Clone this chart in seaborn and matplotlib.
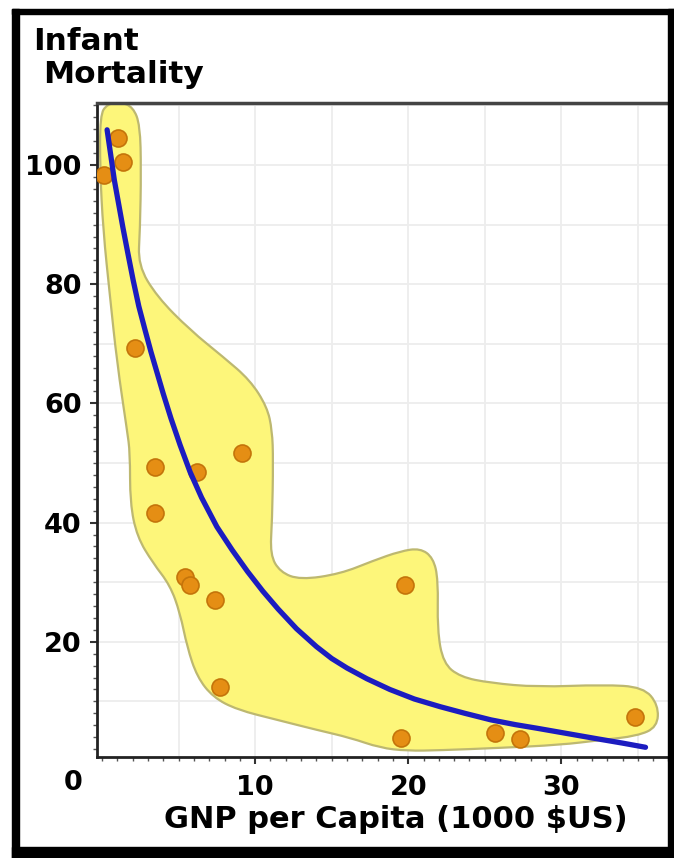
import matplotlib
matplotlib.use("Agg")
import matplotlib.pyplot as plt
from matplotlib.patches import Rectangle, PathPatch
from matplotlib.path import Path
from matplotlib.ticker import MultipleLocator
import seaborn as sns

# Countries: GNP per capita (1000 $US) and infant mortality
gnp = [0.1, 1.05, 1.4, 2.15, 3.45, 3.45, 5.4, 5.75, 6.2, 7.4, 7.7, 9.15,
       19.5, 19.8, 25.7, 27.3, 34.8]
mortality = [98.3, 104.5, 100.5, 69.3, 49.3, 41.6, 30.9, 29.5, 48.5, 27.0,
             12.4, 51.7, 3.9, 29.5, 4.7, 3.7, 7.4]

# Trend curve
curve_x = [0.33, 0.8, 1.37, 1.7, 2.03, 2.4, 2.81, 3.2, 3.6, 4.0, 4.5, 5.1,
           5.75, 6.5, 7.5, 8.5, 9.5, 10.5, 11.5, 12.7, 14.0, 15.0, 16.0,
           17.3, 18.8, 20.4, 22.1, 23.7, 25.4, 27.0, 28.4, 30.4, 32.4, 34.0,
           35.5]
curve_y = [105.9, 97.5, 89.4, 85.0, 80.7, 76.3, 72.3, 68.6, 65.1, 61.6,
           57.5, 53.0, 48.5, 44.2, 39.3, 35.4, 31.8, 28.5, 25.5, 22.2, 19.2,
           17.2, 15.6, 13.8, 12.0, 10.4, 9.1, 8.0, 6.9, 6.1, 5.5, 4.6, 3.7,
           3.0, 2.3]

# Outline of the yellow highlighted region
blob_x = [-0.13, 0.33, 1.18, 2.03, 2.48, 2.55, 2.48, 2.35, 3.59, 5.75, 7.91,
          9.67, 10.78, 11.11, 11.18, 11.11, 10.98, 11.63, 12.94, 15.56, 17.71,
          19.48, 20.78, 21.63, 21.96, 21.9, 22.29, 23.4, 25.36, 28.43, 32.75,
          35.36, 36.34, 36.27, 34.97, 32.55, 29.93, 26.01, 22.09, 19.93, 18.17,
          16.21, 14.05, 11.44, 8.82, 7.25, 6.21, 5.56, 5.1, 4.44, 3.33, 2.29,
          1.83, 1.83, 1.63, 0.98, 0.52, 0.07, -0.13]
blob_y = [108.4, 110.2, 110.6, 109.7, 106.7, 99.2, 89.1, 83.2, 77.9, 72.3,
          67.8, 63.9, 59.4, 55.5, 50.5, 40.4, 34.6, 31.7, 30.4, 31.4, 33.6,
          35.2, 35.7, 34.1, 30.4, 22.0, 16.4, 14.1, 13.1, 12.4, 12.8, 12.4,
          9.4, 5.7, 4.2, 3.5, 2.7, 2.2, 1.8, 1.7, 2.2, 3.9, 5.2, 6.9, 8.6,
          10.7, 14.1, 19.1, 24.8, 29.5, 33.2, 37.6, 43.3, 51.7, 55.5, 66.8,
          77.9, 89.1, 99.2]


def smooth_outline(xs, ys):
    # closed outline through the edge midpoints, vertices used as controls
    pts = list(zip(xs, ys))
    n = len(pts)
    mids = [((pts[i][0] + pts[(i + 1) % n][0]) / 2,
             (pts[i][1] + pts[(i + 1) % n][1]) / 2) for i in range(n)]
    verts = [mids[-1]]
    codes = [Path.MOVETO]
    for i in range(n):
        verts += [pts[i], mids[i]]
        codes += [Path.CURVE3, Path.CURVE3]
    verts.append(mids[-1])
    codes.append(Path.CLOSEPOLY)
    return Path(verts, codes)


sns.set_style("white")
plt.rcParams["font.family"] = ["DejaVu Sans"]
plt.rcParams["font.weight"] = "bold"
plt.rcParams["text.color"] = "black"

W, H = 674, 858
fig = plt.figure(figsize=(W / 100, H / 100), dpi=100)
ax = fig.add_axes([97 / W, 1 - 757 / H, (670 - 97) / W, (757 - 103) / H])

# light background grid
for gx in range(5, 40, 5):
    ax.axvline(gx, color="#ededed", lw=1.3, zorder=0)
for gy in range(10, 111, 10):
    ax.axhline(gy, color="#ededed", lw=1.3, zorder=0)

ax.add_patch(PathPatch(smooth_outline(blob_x, blob_y), facecolor="#fdf67a",
                       edgecolor="#bdb870", linewidth=1.6, zorder=1))
sns.scatterplot(x=gnp, y=mortality, s=150, color="#e58e14",
                edgecolor="#c4740a", linewidth=1.2, zorder=3, ax=ax)
line = sns.lineplot(x=curve_x, y=curve_y, color="#1c1cc0", linewidth=3.8,
                    zorder=4, ax=ax, sort=False)
for ln in ax.get_lines():
    ln.set_solid_joinstyle("round")
    ln.set_solid_capstyle("round")

ax.set_xlim(-0.33, 37.1)
ax.set_ylim(0.67, 110.4)
ax.set_xticks([10, 20, 30])
ax.set_yticks([20, 40, 60, 80, 100])
ax.xaxis.set_minor_locator(MultipleLocator(1))
ax.yaxis.set_minor_locator(MultipleLocator(2))
ax.tick_params(which="both", bottom=True, left=True, top=False, right=False)
ax.tick_params(which="major", direction="out", length=5, width=1.5,
               color="#333333", labelsize=19.5, labelcolor="black")
ax.tick_params(axis="x", which="major", pad=8)
ax.tick_params(axis="y", which="major", pad=6)
ax.tick_params(which="minor", direction="out", length=3, width=1,
               color="#555555")

for side in ["left", "bottom"]:
    ax.spines[side].set_color("#222222")
    ax.spines[side].set_linewidth(2)
ax.spines["top"].set_color("#444444")
ax.spines["top"].set_linewidth(2.5)
ax.spines["right"].set_color("#aaaaaa")
ax.spines["right"].set_linewidth(1)

ax.set_xlabel("GNP per Capita (1000 $US)", fontsize=22, fontweight="bold",
              color="black")
ax.xaxis.set_label_coords(0.522, -0.073)
ax.set_ylabel("")
ax.text(-0.042, -0.040, "0", transform=ax.transAxes, ha="center",
        va="center", fontsize=19.5, fontweight="bold", color="black")

fig.text(33 / W, 1 - 50 / H, "Infant", fontsize=22.5, fontweight="bold",
         va="baseline", ha="left", color="black")
fig.text(43 / W, 1 - 83 / H, "Mortality", fontsize=22.5, fontweight="bold",
         va="baseline", ha="left", color="black")

# black frame around the picture
frame = [(12, 9, W - 12, 5), (12, 9, 7, H - 9), (W - 6, 9, 6, H - 9),
         (12, H - 11, W - 12, 11)]
for fx, fy, fw, fh in frame:
    fig.add_artist(Rectangle((fx / W, 1 - (fy + fh) / H), fw / W, fh / H,
                             transform=fig.transFigure, color="black",
                             zorder=10))

fig.savefig("out.png", dpi=100)
